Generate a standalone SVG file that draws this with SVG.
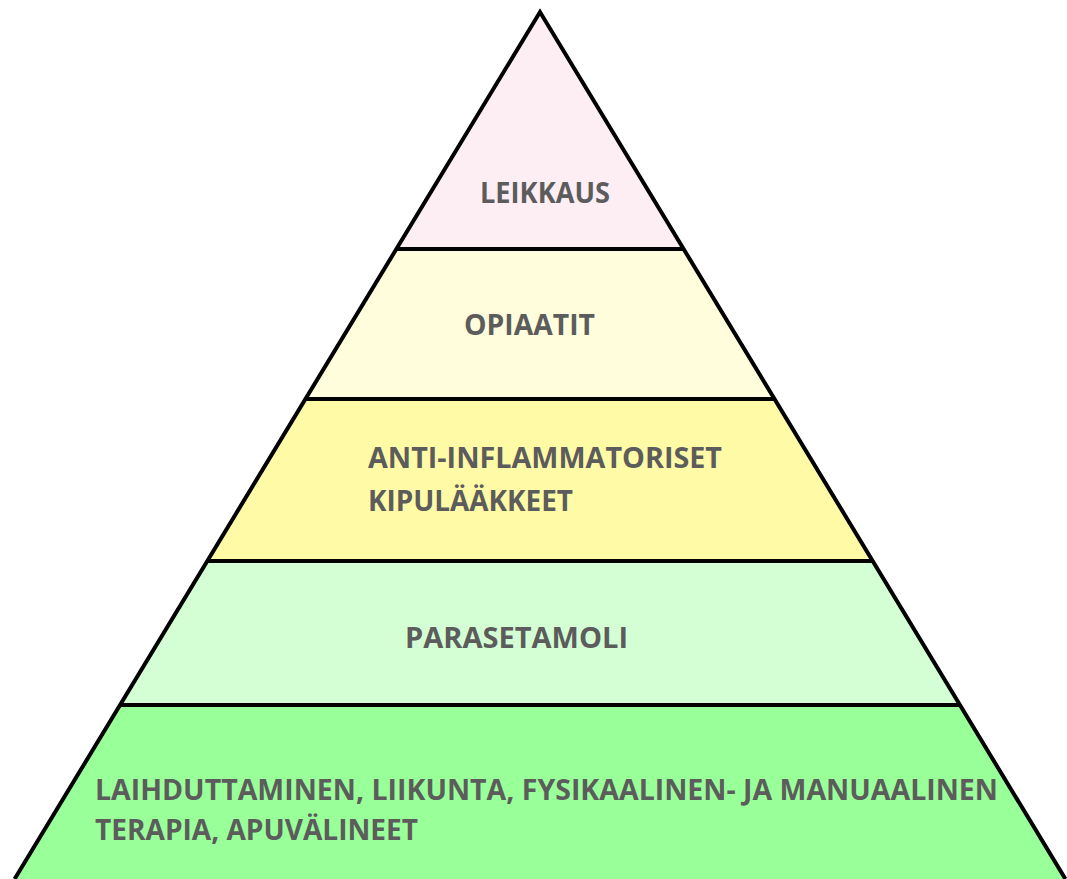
<svg xmlns="http://www.w3.org/2000/svg" width="1067" height="879" viewBox="0 0 1067 879">
<style>
.band{stroke:none}
.t{font-family:"Open Sans","Liberation Sans",sans-serif;font-weight:bold;font-size:28px;fill:#5c5c5c}
.ln{stroke:#000;stroke-width:4;fill:none;stroke-linejoin:miter}
</style>
<rect width="1067" height="879" fill="#fff"/>
<g id="leikkaus">
<polygon class="band" fill="#fdeef4" points="540,12 683.6,249 396.4,249"/>
<text class="t" x="480" y="203" textLength="130" lengthAdjust="spacingAndGlyphs">LEIKKAUS</text>
</g>
<g id="opiaatit">
<polygon class="band" fill="#fffddc" points="396.4,249 683.6,249 774.5,399 305.5,399"/>
<text class="t" x="464" y="335" textLength="131" lengthAdjust="spacingAndGlyphs">OPIAATIT</text>
</g>
<g id="anti">
<polygon class="band" fill="#fffaa6" points="305.5,399 774.5,399 872.7,561 207.3,561"/>
<text class="t" x="368" y="468" textLength="354" lengthAdjust="spacingAndGlyphs">ANTI-INFLAMMATORISET</text>
<text class="t" x="368" y="511" textLength="205" lengthAdjust="spacingAndGlyphs">KIPULÄÄKKEET</text>
</g>
<g id="parasetamoli">
<polygon class="band" fill="#d4ffd4" points="207.3,561 872.7,561 960,705 120,705"/>
<text class="t" x="405" y="648" textLength="223" lengthAdjust="spacingAndGlyphs">PARASETAMOLI</text>
</g>
<g id="laihduttaminen">
<polygon class="band" fill="#99ff99" points="120,705 960,705 1065.4,879 14.6,879"/>
<text class="t" x="95" y="800" textLength="903" lengthAdjust="spacingAndGlyphs">LAIHDUTTAMINEN, LIIKUNTA, FYSIKAALINEN- JA MANUAALINEN</text>
<text class="t" x="95" y="840" textLength="323" lengthAdjust="spacingAndGlyphs">TERAPIA, APUVÄLINEET</text>
</g>
<g id="connectors">
<polyline class="ln" points="14.6,879 540,12 1065.4,879"/>
<line class="ln" x1="396.4" y1="249" x2="683.6" y2="249"/>
<line class="ln" x1="305.5" y1="399" x2="774.5" y2="399"/>
<line class="ln" x1="207.3" y1="561" x2="872.7" y2="561"/>
<line class="ln" x1="120" y1="705" x2="960" y2="705"/>
</g>
</svg>
